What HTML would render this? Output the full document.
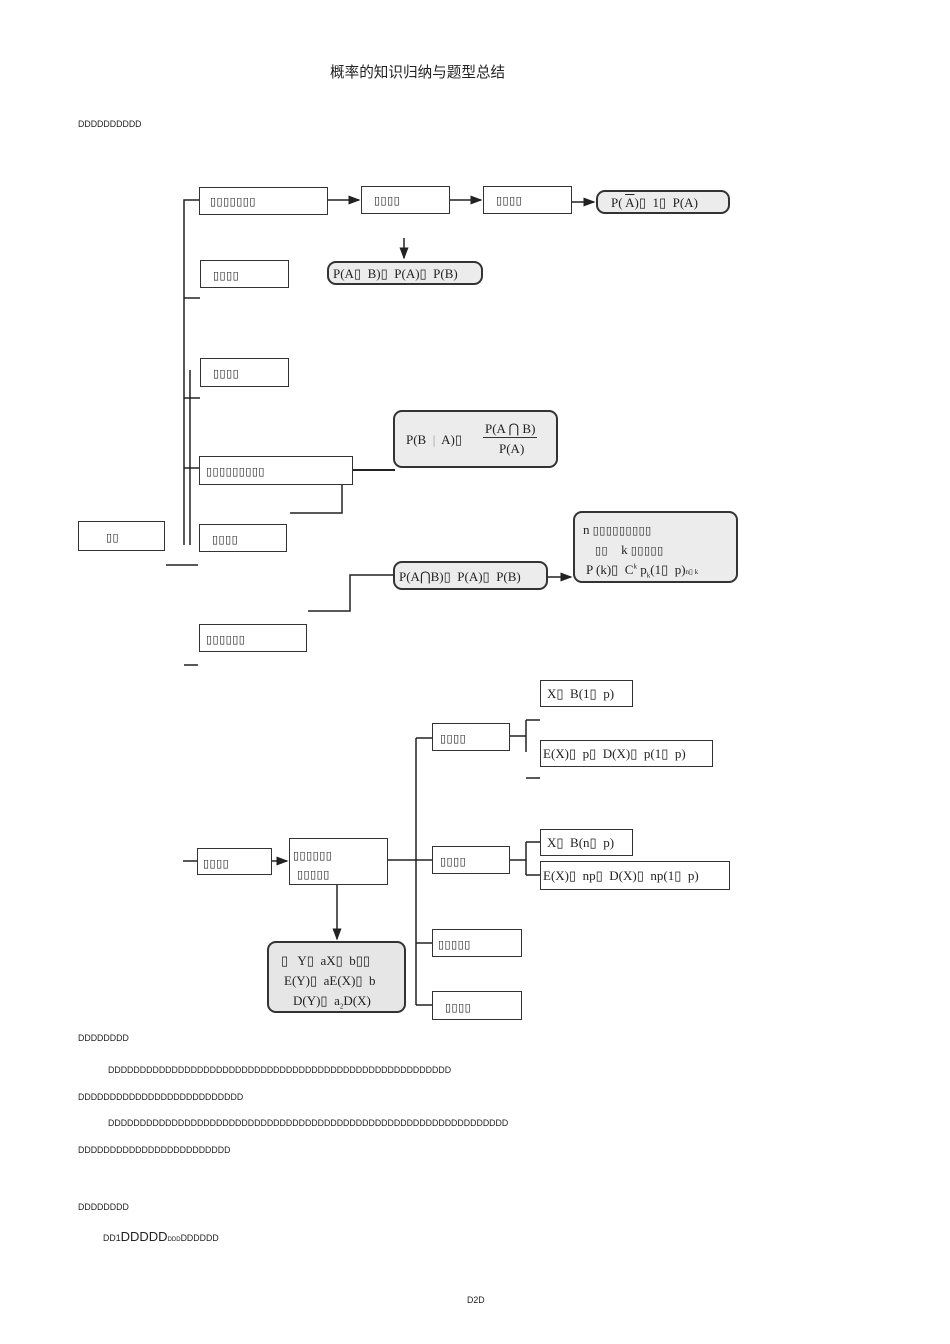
<!DOCTYPE html>
<html><head><meta charset="utf-8"><style>
body{margin:0;background:#fff;}
#c{position:relative;width:950px;height:1344px;overflow:hidden;font-family:"Liberation Serif","Noto Serif CJK SC",serif;color:#222;}
.b{position:absolute;border:1.3px solid #333;box-sizing:border-box;background:#fff;font-size:12px;line-height:1.2;}
.r{position:absolute;border:2px solid #333;border-radius:9px;box-sizing:border-box;background:#ececec;font-size:13px;}
.t{font-family:"DejaVu Sans",sans-serif;font-size:11px;letter-spacing:0.5px;}
.p{position:absolute;white-space:nowrap;}
.s{position:absolute;font-family:"Liberation Sans",sans-serif;font-size:8.8px;color:#222;white-space:nowrap;}
svg{position:absolute;left:0;top:0;}
</style></head><body><div id="c">
<div class="p" style="left:330px;top:61px;font-family:'Liberation Sans','Noto Sans CJK SC',sans-serif;font-size:14.6px;">概率的知识归纳与题型总结</div>
<div class="s" style="left:78px;top:119px;">DDDDDDDDDD</div>

<svg width="950" height="1344">
<defs><marker id="a" markerWidth="8" markerHeight="8" refX="7" refY="4" orient="auto"><path d="M0,1 L8,4 L0,7 Z" fill="#222"/></marker></defs>
<g stroke="#222" stroke-width="1.5" fill="none">
<path d="M199,200 H184 V545"/>
<path d="M184,298 H200 M184,398 H200 M184,468 H199 M166,565 H198 M184,665 H198"/>
<path d="M190,370 V545"/>
<path d="M328,200 H359" marker-end="url(#a)"/>
<path d="M450,200 H481" marker-end="url(#a)"/>
<path d="M572,202 H594" marker-end="url(#a)"/>
<path d="M404,238 V258" marker-end="url(#a)"/>
<path d="M353,470 H395" stroke-width="2"/>
<path d="M342,470 V513 H290"/>
<path d="M308,611 H350 V575 H393"/>
<path d="M548,577 H571" marker-end="url(#a)"/>
<path d="M416,738 V1005 M416,738 H432 M388,860 H432 M416,943 H432 M416,1005 H432"/>
<path d="M183,861 H197"/>
<path d="M272,861 H287" marker-end="url(#a)"/>
<path d="M337,885 V939" marker-end="url(#a)"/>
<path d="M510,736 H526 M526,720 V752 M526,720 H540 M526,778 H540"/>
<path d="M510,860 H526 M526,842 V875 M526,842 H540 M526,875 H540"/>
</g></svg>

<div class="b" style="left:199px;top:187px;width:129px;height:28px;padding:6px 0 0 10px;"><span class="t">▯▯▯▯▯▯▯</span></div>
<div class="b" style="left:361px;top:186px;width:89px;height:28px;padding:6px 0 0 12px;"><span class="t">▯▯▯▯</span></div>
<div class="b" style="left:483px;top:186px;width:89px;height:28px;padding:6px 0 0 12px;"><span class="t">▯▯▯▯</span></div>
<div class="r" style="left:596px;top:190px;width:134px;height:24px;padding:3px 0 0 13px;">P( <span style="text-decoration:overline">A</span>)▯&nbsp; 1▯&nbsp; P(A)</div>
<div class="r" style="left:327px;top:261px;width:156px;height:24px;padding:3px 0 0 4px;">P(A▯&nbsp; B)▯&nbsp; P(A)▯&nbsp; P(B)</div>
<div class="b" style="left:200px;top:260px;width:89px;height:28px;padding:7px 0 0 12px;"><span class="t">▯▯▯▯</span></div>
<div class="b" style="left:200px;top:358px;width:89px;height:29px;padding:7px 0 0 12px;"><span class="t">▯▯▯▯</span></div>
<div class="r" style="left:393px;top:410px;width:165px;height:58px;">
 <div class="p" style="left:11px;top:20px;">P(B &nbsp;<span style="color:#999">|</span>&nbsp; A)▯</div>
 <div class="p" style="left:88px;top:9px;border-bottom:1.5px solid #333;padding:0 2px;">P(A ⋂ B)</div>
 <div class="p" style="left:104px;top:29px;">P(A)</div></div>
<div class="b" style="left:199px;top:456px;width:154px;height:29px;padding:7px 0 0 6px;"><span class="t">▯▯▯▯▯▯▯▯▯</span></div>
<div class="b" style="left:78px;top:521px;width:87px;height:30px;padding:8px 0 0 27px;"><span class="t">▯▯</span></div>
<div class="b" style="left:199px;top:524px;width:88px;height:28px;padding:7px 0 0 12px;"><span class="t">▯▯▯▯</span></div>
<div class="r" style="left:393px;top:561px;width:155px;height:29px;padding:6px 0 0 4px;">P(A⋂B)▯&nbsp; P(A)▯&nbsp; P(B)</div>
<div class="r" style="left:573px;top:511px;width:165px;height:72px;">
 <div class="p" style="left:8px;top:9px;">n <span class="t">▯▯▯▯▯▯▯▯▯</span></div>
 <div class="p" style="left:20px;top:29px;"><span class="t">▯▯</span>&nbsp;&nbsp;&nbsp; k <span class="t">▯▯▯▯▯</span></div>
 <div class="p" style="left:11px;top:49px;">P (k)▯&nbsp; C<sup style="font-size:7px">k</sup> p<sub style="font-size:7px">k</sub>(1▯&nbsp; p)<span style="font-size:7px">n▯ k</span></div></div>
<div class="b" style="left:199px;top:624px;width:108px;height:28px;padding:7px 0 0 6px;"><span class="t">▯▯▯▯▯▯</span></div>

<div class="b" style="left:540px;top:680px;width:93px;height:27px;padding:5px 0 0 6px;font-size:13px;">X▯&nbsp; B(1▯&nbsp; p)</div>
<div class="b" style="left:432px;top:723px;width:78px;height:28px;padding:7px 0 0 7px;"><span class="t">▯▯▯▯</span></div>
<div class="b" style="left:540px;top:740px;width:173px;height:27px;padding:5px 0 0 2px;font-size:13px;">E(X)▯&nbsp; p▯&nbsp; D(X)▯&nbsp; p(1▯&nbsp; p)</div>
<div class="b" style="left:540px;top:829px;width:93px;height:27px;padding:5px 0 0 6px;font-size:13px;">X▯&nbsp; B(n▯&nbsp; p)</div>
<div class="b" style="left:540px;top:861px;width:190px;height:29px;padding:6px 0 0 2px;font-size:13px;">E(X)▯&nbsp; np▯&nbsp; D(X)▯&nbsp; np(1▯&nbsp; p)</div>
<div class="b" style="left:197px;top:848px;width:75px;height:27px;padding:7px 0 0 5px;"><span class="t">▯▯▯▯</span></div>
<div class="b" style="left:289px;top:838px;width:99px;height:47px;padding:7px 0 0 3px;line-height:19px;"><span class="t">▯▯▯▯▯▯<br>&nbsp;▯▯▯▯▯</span></div>
<div class="b" style="left:432px;top:846px;width:78px;height:28px;padding:7px 0 0 7px;"><span class="t">▯▯▯▯</span></div>
<div class="b" style="left:432px;top:929px;width:90px;height:28px;padding:7px 0 0 5px;"><span class="t">▯▯▯▯▯</span></div>
<div class="b" style="left:432px;top:991px;width:90px;height:29px;padding:8px 0 0 12px;"><span class="t">▯▯▯▯</span></div>
<div class="r" style="left:267px;top:941px;width:139px;height:72px;background:#e6e6e6;">
 <div class="p" style="left:12px;top:10px;">▯&nbsp;&nbsp; Y▯&nbsp; aX▯&nbsp; b▯▯</div>
 <div class="p" style="left:15px;top:30px;">E(Y)▯&nbsp; aE(X)▯&nbsp; b</div>
 <div class="p" style="left:24px;top:50px;">D(Y)▯&nbsp; a<sub style="font-size:7px">2</sub>D(X)</div></div>

<div class="s" style="left:78px;top:1033px;">DDDDDDDD</div>
<div class="s" style="left:108px;top:1065px;">DDDDDDDDDDDDDDDDDDDDDDDDDDDDDDDDDDDDDDDDDDDDDDDDDDDDDD</div>
<div class="s" style="left:78px;top:1092px;">DDDDDDDDDDDDDDDDDDDDDDDDDD</div>
<div class="s" style="left:108px;top:1118px;">DDDDDDDDDDDDDDDDDDDDDDDDDDDDDDDDDDDDDDDDDDDDDDDDDDDDDDDDDDDDDDD</div>
<div class="s" style="left:78px;top:1145px;">DDDDDDDDDDDDDDDDDDDDDDDD</div>
<div class="s" style="left:78px;top:1202px;">DDDDDDDD</div>
<div class="s" style="left:103px;top:1229px;">DD1<span style="font-size:13px">DDDDD</span><span style="font-size:6px">DDD</span>DDDDDD</div>
<div class="s" style="left:467px;top:1295px;">D2D</div>
</div></body></html>
